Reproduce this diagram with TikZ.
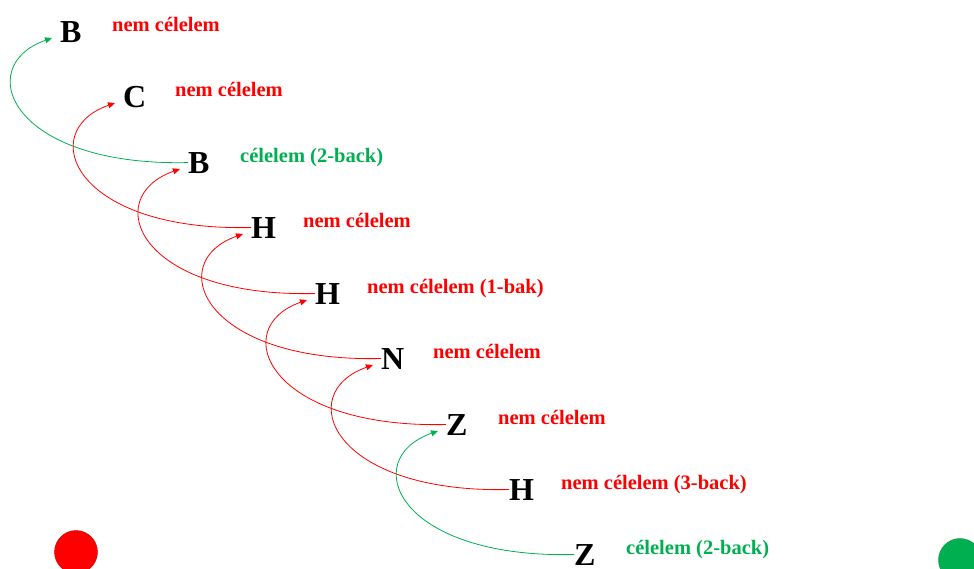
\documentclass[tikz,border=0pt]{standalone}
\usepackage{fontspec}
\setmainfont{Liberation Serif}
\usepackage{xcolor}
\usepackage{tikz}
\usetikzlibrary{arrows.meta, positioning, calc}
\definecolor{nored}{HTML}{FF0000}
\definecolor{hitgreen}{HTML}{00B050}

\begin{document}
\begin{tikzpicture}[
  x=1pt, y=-1pt,
  letter/.style={inner sep=0pt, anchor=base west, font=\fontsize{32}{32}\selectfont\bfseries},
  tag/.style={inner sep=0pt, anchor=base west, font=\fontsize{20.5}{20.5}\selectfont\bfseries},
  miss/.style={tag, text=nored},
  hit/.style={tag, text=hitgreen},
  backarc/.style={-{Triangle[length=7pt,width=6pt]}, line width=0.8pt,
    to path={.. controls +(-178,4) and +(-80,28) .. (\tikztotarget)}},
  redarc/.style={backarc, draw=nored},
  greenarc/.style={backarc, draw=hitgreen},
  lamp/.style={circle, minimum size=43pt, inner sep=0pt}
]
\useasboundingbox (0,0) rectangle (974,568);

% letter sequence
\node[letter] (b1) at (60,42) {B};
\node[letter] (c) at (123,107) {C};
\node[letter] (b2) at (188,173) {B};
\node[letter] (h1) at (251,238) {H};
\node[letter] (h2) at (315,304) {H};
\node[letter] (n) at (381,369) {N};
\node[letter] (z1) at (446,435) {Z};
\node[letter] (h3) at (509,500) {H};
\node[letter] (z2) at (574,565) {Z};

% verdicts
\node[miss] (t1) at ([shift={(52,-11)}]b1.base west) {nem célelem};
\node[miss] (t2) at ([shift={(52,-11)}]c.base west) {nem célelem};
\node[hit] (t3) at ([shift={(52,-11)}]b2.base west) {célelem (2-back)};
\node[miss] (t4) at ([shift={(52,-11)}]h1.base west) {nem célelem};
\node[miss] (t5) at ([shift={(52,-11)}]h2.base west) {nem célelem (1-bak)};
\node[miss] (t6) at ([shift={(52,-11)}]n.base west) {nem célelem};
\node[miss] (t7) at ([shift={(52,-11)}]z1.base west) {nem célelem};
\node[miss] (t8) at ([shift={(52,-11)}]h3.base west) {nem célelem (3-back)};
\node[hit] (t9) at ([shift={(52,-11)}]z2.base west) {célelem (2-back)};

% two-back links
\draw[greenarc] (b2.west) to ([shift={(-8,-4)}]b1.base west);
\draw[redarc] (h1.west) to ([shift={(-8,-4)}]c.base west);
\draw[redarc] (h2.west) to ([shift={(-8,-4)}]b2.base west);
\draw[redarc] (n.west) to ([shift={(-8,-4)}]h1.base west);
\draw[redarc] (z1.west) to ([shift={(-8,-4)}]h2.base west);
\draw[redarc] (h3.west) to ([shift={(-8,-4)}]n.base west);
\draw[greenarc] (z2.west) to ([shift={(-8,-4)}]z1.base west);

% lamps
\node[lamp, fill=nored, draw=nored!75!black] (stop) at (76,552) {};
\node[lamp, fill=hitgreen, draw=hitgreen!85!black] (go) at (960,560) {};

\end{tikzpicture}
\end{document}
